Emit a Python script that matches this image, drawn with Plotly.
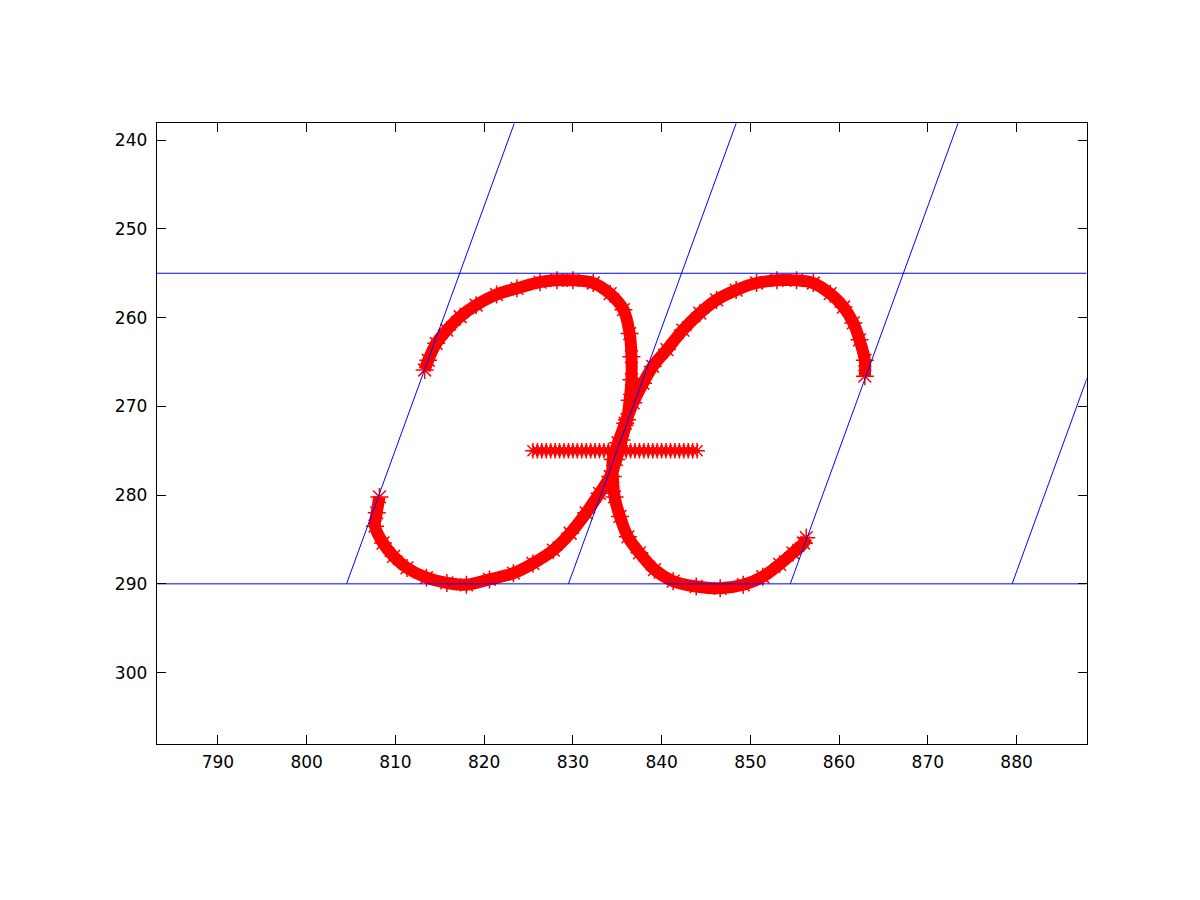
import plotly.graph_objects as go

# Guide lines (data units)
guide_top_y = 255
guide_base_y = 290
slant_base_x = [804.5, 829.5, 854.5, 879.5]
slant_top_x = [823.4, 848.4, 873.4, 898.4]
slant_top_y = 238.1

# Pen trace: left loop
left_x = [813.3, 813.7, 814.6, 815.8, 817.3, 819.1, 821.4, 823.7, 826.3, 828.2,
          830.0, 832.3, 834.2, 835.7, 836.4, 836.6, 836.6, 836.4, 836.1, 835.5,
          834.9, 834.2, 833.0, 831.5, 829.7, 827.8, 825.5, 823.3, 820.6, 818.0,
          815.8, 813.5, 811.3, 809.8, 808.6, 807.7, 807.9, 808.2]
left_y = [265.9, 264.8, 262.9, 261.4, 259.9, 258.6, 257.4, 256.7, 256.0, 255.8,
          255.8, 256.1, 257.3, 259.1, 261.8, 264.4, 267.0, 269.3, 271.5, 273.8,
          276.0, 277.9, 279.8, 282.0, 284.3, 286.2, 287.7, 288.8, 289.5, 290.1,
          289.9, 289.3, 288.2, 286.9, 285.4, 283.5, 282.0, 280.2]

# Pen trace: right loop
right_x = [862.9, 862.9, 862.3, 861.6, 860.5, 859.0, 857.1, 855.2, 853.0, 850.7,
           848.4, 846.2, 844.3, 842.4, 840.6, 839.0, 837.9, 836.8, 835.9, 835.1,
           834.5, 834.5, 834.7, 835.3, 836.2, 837.5, 839.2, 841.3, 843.9, 846.6,
           849.2, 851.4, 853.3, 854.8, 856.0, 856.3]
right_y = [266.6, 264.8, 262.5, 260.6, 258.8, 257.3, 256.1, 255.8, 255.8, 256.1,
           256.9, 258.0, 259.5, 261.4, 263.6, 265.5, 267.4, 269.6, 271.9, 274.1,
           276.0, 277.9, 280.2, 282.4, 284.7, 286.5, 288.4, 289.7, 290.3, 290.5,
           290.1, 289.2, 287.8, 286.5, 285.4, 284.8]

# Pen trace: horizontal bar
bar_x = [825.5, 826.0, 826.5, 827.0, 827.5, 828.0, 828.5, 829.0, 829.5, 830.0,
         830.5, 831.0, 831.5, 832.0, 832.5, 833.0, 833.5, 834.0, 834.5, 835.0,
         835.5, 836.0, 836.5, 837.0, 837.5, 838.0, 838.5, 839.0, 839.5, 840.0,
         840.5, 841.0, 841.5, 842.0, 842.5, 843.0, 843.5, 844.0]
bar_y = [275.0] * len(bar_x)

x_ticks = [790, 800, 810, 820, 830, 840, 850, 860, 870, 880]
y_ticks = [240, 250, 260, 270, 280, 290, 300]
x_range = [783.1, 887.9]
y_range = [308.1, 238.1]

RED = "#ff0000"
BLUE = "#0000ff"

fig = go.Figure()

for xs, ys in [(left_x, left_y), (right_x, right_y)]:
    fig.add_trace(go.Scatter(
        x=xs, y=ys, mode="lines+markers",
        line=dict(color=RED, width=12, shape="spline", smoothing=1.0),
        marker=dict(symbol="asterisk-open", size=15,
                    line=dict(color=RED, width=1.5), color=RED),
        showlegend=False, hoverinfo="skip"))

fig.add_trace(go.Scatter(
    x=bar_x, y=bar_y, mode="lines+markers",
    line=dict(color=RED, width=5),
    marker=dict(symbol="asterisk-open", size=13,
                line=dict(color=RED, width=1.5), color=RED),
    showlegend=False, hoverinfo="skip"))

# horizontal guide lines
fig.add_trace(go.Scatter(x=x_range, y=[guide_top_y, guide_top_y], mode="lines",
                         line=dict(color=BLUE, width=1), showlegend=False))
fig.add_trace(go.Scatter(x=x_range, y=[guide_base_y, guide_base_y], mode="lines",
                         line=dict(color=BLUE, width=1), showlegend=False))
# slanted guide lines
for bx, tx in zip(slant_base_x, slant_top_x):
    fig.add_trace(go.Scatter(x=[bx, tx], y=[guide_base_y, slant_top_y], mode="lines",
                             line=dict(color=BLUE, width=1), showlegend=False,
                             cliponaxis=True))

axis_common = dict(showline=True, linecolor="black", linewidth=1, mirror="ticks",
                   ticks="inside", ticklen=9, tickcolor="black", tickwidth=1,
                   showgrid=False, zeroline=False,
                   tickfont=dict(family="DejaVu Sans", size=17, color="black"))

fig.update_layout(
    width=1200, height=900,
    margin=dict(l=0, r=0, t=0, b=0),
    paper_bgcolor="white", plot_bgcolor="white",
    xaxis=dict(domain=[0.1239, 0.8989], range=x_range, tickvals=x_ticks,
               ticklabelstandoff=2, **axis_common),
    yaxis=dict(domain=[0.1817, 0.8719], range=y_range, tickvals=y_ticks,
               ticklabelstandoff=5, **axis_common),
)

fig.write_html("out.html")
